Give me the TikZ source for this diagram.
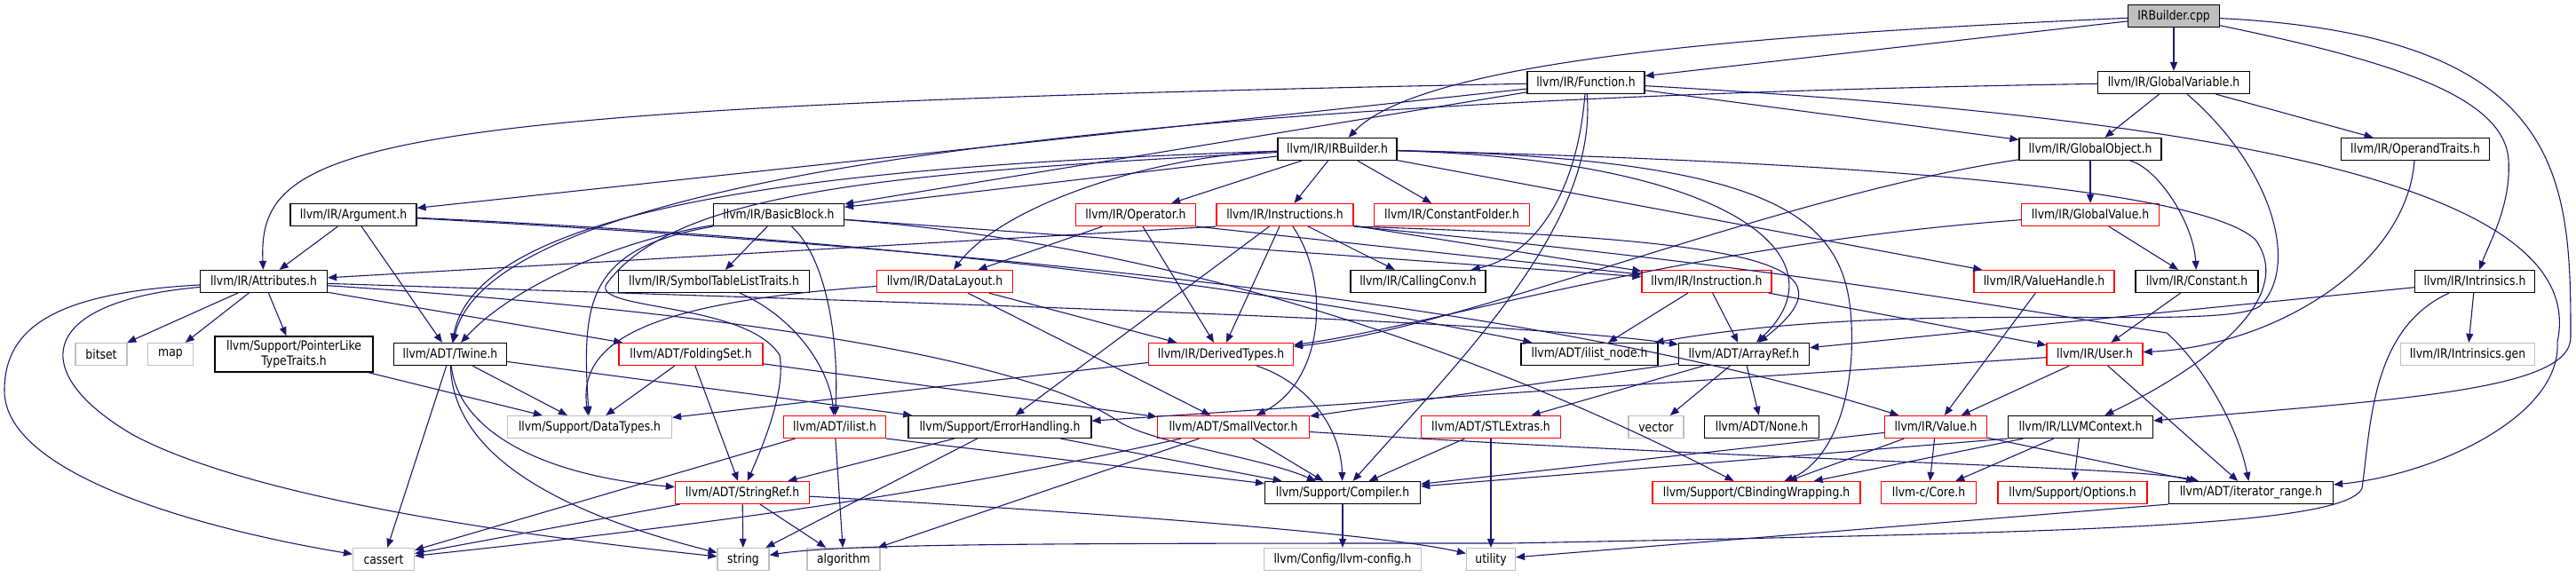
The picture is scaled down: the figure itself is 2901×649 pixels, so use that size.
\documentclass[tikz,border=0pt]{standalone}
\usepackage{fontspec}
\setmainfont{DejaVu Sans}[FakeStretch=0.855]
\usetikzlibrary{arrows.meta}
\definecolor{edgeblue}{RGB}{25,25,112}
\definecolor{extgray}{RGB}{191,191,191}
\begin{document}
\begin{tikzpicture}[x=1pt,y=-1pt,
  every node/.style={rectangle, inner sep=0pt, minimum height=25pt, line width=1.2pt, font=\fontsize{14.5}{17}\selectfont},
  hdr/.style={draw=black, fill=white},
  trunc/.style={draw=red, fill=white},
  ext/.style={draw=extgray, fill=white},
  mainfile/.style={draw=black, fill=extgray},
  dep/.style={draw=edgeblue, line width=1.1pt, -{Triangle[length=10pt,width=8pt]}}]
\useasboundingbox (0,0) rectangle (2901,649);
% row 0 to 2
\node[mainfile, minimum width=103] (cpp) at (2448,18) {IRBuilder.cpp};
\node[hdr, minimum width=132] (func) at (1786,93) {llvm/IR/Function.h};
\node[hdr, minimum width=171] (gvar) at (2448,93) {llvm/IR/GlobalVariable.h};
\node[hdr, minimum width=134] (irb) at (1506,168) {llvm/IR/IRBuilder.h};
\node[hdr, minimum width=160] (gobj) at (2354,168) {llvm/IR/GlobalObject.h};
\node[hdr, minimum width=167] (optr) at (2720,168) {llvm/IR/OperandTraits.h};
% row 3
\node[hdr, minimum width=142] (arg) at (398,242) {llvm/IR/Argument.h};
\node[hdr, minimum width=147] (bb) at (877,242) {llvm/IR/BasicBlock.h};
\node[trunc, minimum width=135] (oper) at (1279,242) {llvm/IR/Operator.h};
\node[trunc, minimum width=154] (insts) at (1447,242) {llvm/IR/Instructions.h};
\node[trunc, minimum width=175] (cfold) at (1635,242) {llvm/IR/ConstantFolder.h};
\node[trunc, minimum width=155] (gval) at (2354,242) {llvm/IR/GlobalValue.h};
% row 4
\node[hdr, minimum width=143] (attr) at (297,317) {llvm/IR/Attributes.h};
\node[hdr, minimum width=215] (stlt) at (804,317) {llvm/IR/SymbolTableListTraits.h};
\node[trunc, minimum width=153] (dl) at (1064,317) {llvm/IR/DataLayout.h};
\node[hdr, minimum width=152] (cc) at (1597,317) {llvm/IR/CallingConv.h};
\node[trunc, minimum width=146] (inst) at (1922,317) {llvm/IR/Instruction.h};
\node[trunc, minimum width=158] (vh) at (2302,317) {llvm/IR/ValueHandle.h};
\node[hdr, minimum width=138] (cnst) at (2474,317) {llvm/IR/Constant.h};
\node[hdr, minimum width=135] (intr) at (2787,317) {llvm/IR/Intrinsics.h};
% row 5
\node[ext, minimum width=58] (bitset) at (114,399) {bitset};
\node[ext, minimum width=51] (map) at (192,399) {map};
\node[hdr, minimum width=178, minimum height=40, align=center] (plt) at (331,399) {llvm/Support/PointerLike\\TypeTraits.h};
\node[hdr, minimum width=127] (twine) at (507,399) {llvm/ADT/Twine.h};
\node[trunc, minimum width=162] (fset) at (778,399) {llvm/ADT/FoldingSet.h};
\node[trunc, minimum width=163] (dt) at (1375,399) {llvm/IR/DerivedTypes.h};
\node[hdr, minimum width=154] (iln) at (1790,399) {llvm/ADT/ilist\_node.h};
\node[hdr, minimum width=147] (aref) at (1964,399) {llvm/ADT/ArrayRef.h};
\node[trunc, minimum width=108] (user) at (2359,399) {llvm/IR/User.h};
\node[ext, minimum width=151] (igen) at (2779,399) {llvm/IR/Intrinsics.gen};
% row 6
\node[ext, minimum width=185] (dtypes) at (664,481) {llvm/Support/DataTypes.h};
\node[trunc, minimum width=115] (ilist) at (940,481) {llvm/ADT/ilist.h};
\node[hdr, minimum width=206] (eh) at (1126,481) {llvm/Support/ErrorHandling.h};
\node[trunc, minimum width=171] (svec) at (1389,481) {llvm/ADT/SmallVector.h};
\node[trunc, minimum width=157] (stlx) at (1679,481) {llvm/ADT/STLExtras.h};
\node[ext, minimum width=62] (vector) at (1865,481) {vector};
\node[hdr, minimum width=129] (none) at (1984,481) {llvm/ADT/None.h};
\node[trunc, minimum width=115] (val) at (2180,481) {llvm/IR/Value.h};
\node[hdr, minimum width=163] (ctx) at (2343,481) {llvm/IR/LLVMContext.h};
% row 7 and 8
\node[trunc, minimum width=151] (sref) at (836,555) {llvm/ADT/StringRef.h};
\node[hdr, minimum width=175] (comp) at (1512,555) {llvm/Support/Compiler.h};
\node[trunc, minimum width=234] (cbw) at (1978,555) {llvm/Support/CBindingWrapping.h};
\node[trunc, minimum width=107] (core) at (2172,555) {llvm-c/Core.h};
\node[trunc, minimum width=168] (opts) at (2334,555) {llvm/Support/Options.h};
\node[hdr, minimum width=185] (irange) at (2535,555) {llvm/ADT/iterator\_range.h};
\node[ext, minimum width=69] (cassert) at (432,630) {cassert};
\node[ext, minimum width=58] (string) at (837,630) {string};
\node[ext, minimum width=82] (algo) at (950,630) {algorithm};
\node[ext, minimum width=177] (lcfg) at (1512,630) {llvm/Config/llvm-config.h};
\node[ext, minimum width=55] (utility) at (1679,630) {utility};
% IRBuilder.cpp
\draw[dep] (cpp) -- (func);
\draw[dep] (cpp) -- (gvar);
\draw[dep] (cpp) .. controls (1950,40) and (1600,70) .. (irb);
\draw[dep] (cpp) .. controls (2700,70) and (2820,110) .. (2825,180) .. controls (2828,230) and (2805,270) .. (intr);
\draw[dep] (cpp) .. controls (2890,40) and (2895,200) .. (2895,380) .. controls (2895,440) and (2700,450) .. (ctx);
% Function.h
\draw[dep] (func) .. controls (400,120) and (290,160) .. (attr);
\draw[dep] (func) -- (arg);
\draw[dep] (func) -- (bb);
\draw[dep] (func) -- (gobj);
\draw[dep] (func) .. controls (1775,230) and (1720,290) .. (cc);
\draw[dep] (func) .. controls (1800,250) and (1650,400) .. (comp);
\draw[dep] (func) .. controls (2450,130) and (2920,200) .. (2880,385) .. controls (2885,470) and (2740,535) .. (irange);
% GlobalVariable.h
\draw[dep] (gvar) -- (gobj);
\draw[dep] (gvar) -- (optr);
\draw[dep] (gvar) .. controls (1400,110) and (560,180) .. (twine);
\draw[dep] (gvar) .. controls (2560,190) and (2590,300) .. (2545,345) .. controls (2500,375) and (2150,335) .. (iln);
% IRBuilder.h
\draw[dep] (irb) -- (bb);
\draw[dep] (irb) -- (oper);
\draw[dep] (irb) -- (insts);
\draw[dep] (irb) -- (cfold);
\draw[dep] (irb) .. controls (1300,175) and (1130,230) .. (dl);
\draw[dep] (irb) .. controls (1000,185) and (540,220) .. (twine);
\draw[dep] (irb) .. controls (1000,195) and (760,215) .. (683,320) .. controls (665,350) and (840,340) .. (878,400) .. controls (885,440) and (860,500) .. (sref);
\draw[dep] (irb) .. controls (1950,180) and (2080,290) .. (aref);
\draw[dep] (irb) -- (vh);
\draw[dep] (irb) .. controls (2000,180) and (2470,205) .. (2540,270) .. controls (2590,340) and (2470,420) .. (ctx);
\draw[dep] (irb) .. controls (2050,180) and (2090,260) .. (2085,400) .. controls (2080,480) and (2050,525) .. (cbw);
% Argument.h
\draw[dep] (arg) -- (attr);
\draw[dep] (arg) -- (twine);
\draw[dep] (arg) .. controls (1000,270) and (1400,320) .. (iln);
\draw[dep] (arg) .. controls (1000,275) and (1700,330) .. (val);
% BasicBlock.h
\draw[dep] (bb) -- (stlt);
\draw[dep] (bb) .. controls (930,290) and (945,380) .. (ilist);
\draw[dep] (bb) .. controls (700,270) and (580,320) .. (twine);
\draw[dep] (bb.south west) .. controls (660,280) and (655,340) .. (dtypes);
\draw[dep] (bb) -- (inst);
\draw[dep] (bb) .. controls (1250,270) and (1600,360) .. (cbw);
% Operator.h
\draw[dep] (oper) -- (dl);
\draw[dep] (oper) -- (dt);
\draw[dep] (oper.south east) -- (inst);
% Instructions.h
\draw[dep] (insts.south west) -- (attr);
\draw[dep] (insts) -- (eh);
\draw[dep] (insts) .. controls (1500,320) and (1490,430) .. (svec);
\draw[dep] (insts) -- (dt);
\draw[dep] (insts) -- (cc);
\draw[dep] (insts) -- (inst);
\draw[dep] (insts.south east) .. controls (2000,270) and (2090,300) .. (aref);
\draw[dep] (insts.south east) .. controls (2000,300) and (2250,345) .. (2440,375) .. controls (2480,410) and (2520,480) .. (irange);
% DataLayout.h
\draw[dep] (dl) -- (dt);
\draw[dep] (dl) -- (svec);
\draw[dep] (dl) .. controls (740,340) and (650,380) .. (dtypes);
% GlobalObject.h, OperandTraits.h, GlobalValue.h
\draw[dep] (gobj) -- (gval);
\draw[dep] (gobj) .. controls (2430,190) and (2470,250) .. (cnst);
\draw[dep] (gobj) .. controls (2000,220) and (1650,370) .. (dt);
\draw[dep] (optr) .. controls (2710,300) and (2560,390) .. (user);
\draw[dep] (gval) -- (cnst);
\draw[dep] (gval) .. controls (1900,275) and (1600,370) .. (dt);
% Attributes.h
\draw[dep] (attr) -- (bitset);
\draw[dep] (attr) -- (map);
\draw[dep] (attr) -- (plt);
\draw[dep] (attr) .. controls (60,330) and (5,370) .. (5,440) .. controls (5,540) and (250,600) .. (cassert);
\draw[dep] (attr) .. controls (40,340) and (30,420) .. (150,490) .. controls (300,570) and (650,610) .. (string);
\draw[dep] (attr) -- (fset);
\draw[dep] (attr) .. controls (1000,340) and (1700,360) .. (aref);
\draw[dep] (attr) .. controls (800,350) and (1150,400) .. (1260,475) .. controls (1300,500) and (1420,515) .. (comp);
% row 4 headers
\draw[dep] (stlt) .. controls (900,360) and (935,420) .. (ilist);
\draw[dep] (inst) -- (iln);
\draw[dep] (inst) -- (aref);
\draw[dep] (inst) -- (user);
\draw[dep] (vh) -- (val);
\draw[dep] (cnst) -- (user);
\draw[dep] (intr) -- (aref);
\draw[dep] (intr) -- (igen);
\draw[dep] (intr) .. controls (2670,370) and (2670,480) .. (2660,550) .. controls (2640,595) and (2300,600) .. (1700,612) .. controls (1200,612) and (950,612) .. (string);
% row 5 headers
\draw[dep] (plt) -- (dtypes);
\draw[dep] (twine) -- (dtypes);
\draw[dep] (twine) .. controls (515,480) and (600,535) .. (sref);
\draw[dep] (twine) -- (cassert);
\draw[dep] (twine) .. controls (510,500) and (600,570) .. (string);
\draw[dep] (twine) -- (eh);
\draw[dep] (fset) -- (dtypes);
\draw[dep] (fset) -- (sref);
\draw[dep] (fset) -- (svec);
\draw[dep] (dt) -- (dtypes);
\draw[dep] (dt) .. controls (1470,430) and (1510,480) .. (comp);
\draw[dep] (user) -- (val);
\draw[dep] (user) -- (irange);
\draw[dep] (user) -- (eh);
\draw[dep] (aref) -- (svec);
\draw[dep] (aref) -- (stlx);
\draw[dep] (aref) -- (vector);
\draw[dep] (aref) -- (none);
% row 6 headers
\draw[dep] (ilist) -- (cassert);
\draw[dep] (ilist) -- (algo);
\draw[dep] (ilist.south east) -- (comp);
\draw[dep] (eh) -- (sref);
\draw[dep] (eh) -- (string);
\draw[dep] (eh) -- (comp);
\draw[dep] (svec) .. controls (1100,545) and (900,580) .. (cassert);
\draw[dep] (svec) -- (algo);
\draw[dep] (svec) -- (comp);
\draw[dep] (svec) .. controls (2000,520) and (2400,525) .. (irange);
\draw[dep] (stlx) -- (comp);
\draw[dep] (stlx) -- (utility);
\draw[dep] (val) -- (cbw);
\draw[dep] (val) -- (core);
\draw[dep] (val) -- (comp);
\draw[dep] (val) -- (irange);
\draw[dep] (ctx) -- (cbw);
\draw[dep] (ctx) -- (core);
\draw[dep] (ctx) -- (opts);
\draw[dep] (ctx.south west) -- (comp);
% row 7 headers
\draw[dep] (sref) -- (cassert);
\draw[dep] (sref) -- (string);
\draw[dep] (sref) -- (algo);
\draw[dep] (sref) .. controls (1200,575) and (1550,600) .. (utility);
\draw[dep] (comp) -- (lcfg);
\draw[dep] (irange.south west) -- (utility);
\end{tikzpicture}
\end{document}
